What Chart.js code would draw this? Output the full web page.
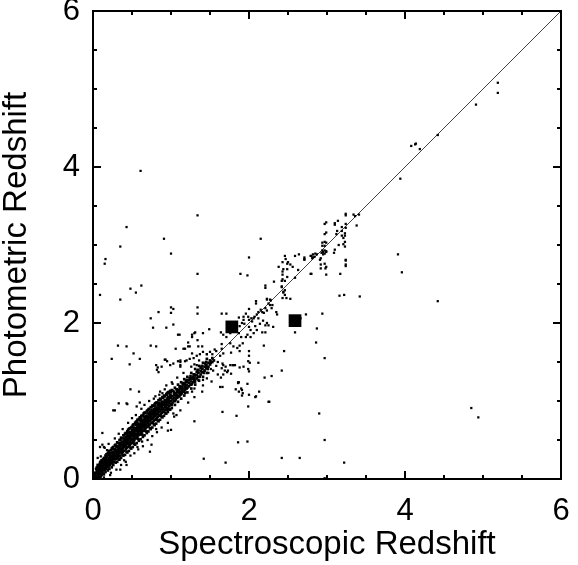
<!DOCTYPE html>
<html>
<head>
<meta charset="utf-8">
<script src="https://cdn.jsdelivr.net/npm/chart.js@4"></script>
<style>
  html, body { margin: 0; padding: 0; background: #fff; }
</style>
</head>
<body>
<canvas id="zChart" width="578" height="565"></canvas>
<script>
// tick values
const majorTicks = [0, 2, 4, 6];
const minorTicks = [0, 0.5, 1, 1.5, 2, 2.5, 3, 3.5, 4, 4.5, 5, 5.5, 6];

// one-to-one reference line
const lineZspec = [0, 6];
const lineZphot = [0, 6];

// the two big squares
const highlightPoints = [[1.78, 1.95], [2.59, 2.03]];

// dense low-z sequence [zspec, zphot]
const bandPoints = [
  [0.03,0.02],[0.03,0.05],[0.03,0.08],
  [0.05,0.03],[0.05,0.07],[0.05,0.11],[0.05,0.15],
  [0.07,0.04],[0.07,0.09],[0.07,0.12],
  [0.08,0.06],[0.08,0.13],[0.08,0.18],
  [0.10,0.07],[0.10,0.10],[0.10,0.14],[0.10,0.22],
  [0.12,0.09],[0.12,0.13],[0.12,0.17],[0.12,0.20],
  [0.13,0.11],[0.13,0.16],[0.13,0.25],
  [0.15,0.12],[0.15,0.14],[0.15,0.19],[0.15,0.23],
  [0.17,0.13],[0.17,0.18],[0.17,0.21],[0.17,0.27],
  [0.18,0.15],[0.18,0.20],[0.18,0.24],
  [0.20,0.16],[0.20,0.19],[0.20,0.23],[0.20,0.27],[0.20,0.31],
  [0.22,0.18],[0.22,0.22],[0.22,0.25],[0.22,0.29],
  [0.23,0.20],[0.23,0.24],[0.23,0.28],[0.23,0.33],
  [0.25,0.21],[0.25,0.25],[0.25,0.30],[0.25,0.27],[0.25,0.35],
  [0.27,0.22],[0.27,0.26],[0.27,0.31],[0.27,0.34],
  [0.28,0.25],[0.28,0.29],[0.28,0.33],[0.28,0.38],
  [0.30,0.26],[0.30,0.30],[0.30,0.34],[0.30,0.37],[0.30,0.28],
  [0.32,0.27],[0.32,0.31],[0.32,0.35],[0.32,0.39],[0.32,0.42],
  [0.33,0.29],[0.33,0.33],[0.33,0.37],[0.33,0.41],
  [0.35,0.30],[0.35,0.34],[0.35,0.38],[0.35,0.42],[0.35,0.46],
  [0.37,0.33],[0.37,0.36],[0.37,0.40],[0.37,0.44],[0.37,0.48],
  [0.38,0.35],[0.38,0.39],[0.38,0.43],[0.38,0.47],
  [0.40,0.36],[0.40,0.41],[0.40,0.44],[0.40,0.49],[0.40,0.52],
  [0.42,0.38],[0.42,0.42],[0.42,0.46],[0.42,0.50],[0.42,0.54],
  [0.43,0.40],[0.43,0.45],[0.43,0.48],[0.43,0.53],
  [0.45,0.41],[0.45,0.46],[0.45,0.50],[0.45,0.55],[0.45,0.59],
  [0.47,0.43],[0.47,0.47],[0.47,0.52],[0.47,0.56],[0.47,0.60],
  [0.48,0.45],[0.48,0.49],[0.48,0.54],[0.48,0.58],
  [0.50,0.46],[0.50,0.51],[0.50,0.55],[0.50,0.60],[0.50,0.63],
  [0.52,0.48],[0.52,0.53],[0.52,0.57],[0.52,0.61],[0.52,0.66],
  [0.53,0.50],[0.53,0.55],[0.53,0.59],[0.53,0.64],
  [0.55,0.52],[0.55,0.57],[0.55,0.61],[0.55,0.65],[0.55,0.69],
  [0.57,0.54],[0.57,0.58],[0.57,0.63],[0.57,0.67],[0.57,0.72],
  [0.58,0.56],[0.58,0.60],[0.58,0.65],[0.58,0.70],
  [0.60,0.57],[0.60,0.62],[0.60,0.66],[0.60,0.71],[0.60,0.75],
  [0.62,0.59],[0.62,0.64],[0.62,0.68],[0.62,0.73],[0.62,0.77],
  [0.63,0.61],[0.63,0.66],[0.63,0.70],[0.63,0.74],
  [0.65,0.62],[0.65,0.67],[0.65,0.72],[0.65,0.76],[0.65,0.80],
  [0.67,0.64],[0.67,0.69],[0.67,0.73],[0.67,0.78],
  [0.68,0.66],[0.68,0.70],[0.68,0.75],[0.68,0.81],
  [0.70,0.67],[0.70,0.72],[0.70,0.76],[0.70,0.80],[0.70,0.84],
  [0.72,0.69],[0.72,0.74],[0.72,0.78],[0.72,0.83],
  [0.73,0.70],[0.73,0.75],[0.73,0.80],[0.73,0.86],
  [0.75,0.72],[0.75,0.77],[0.75,0.81],[0.75,0.85],[0.75,0.88],
  [0.77,0.73],[0.77,0.78],[0.77,0.83],[0.77,0.87],
  [0.78,0.75],[0.78,0.80],[0.78,0.84],[0.78,0.90],
  [0.80,0.76],[0.80,0.81],[0.80,0.85],[0.80,0.89],[0.80,0.93],
  [0.82,0.78],[0.82,0.83],[0.82,0.87],[0.82,0.91],
  [0.83,0.80],[0.83,0.84],[0.83,0.88],[0.83,0.95],
  [0.85,0.82],[0.85,0.86],[0.85,0.90],[0.85,0.93],[0.85,0.97],
  [0.87,0.83],[0.87,0.88],[0.87,0.92],[0.87,0.96],
  [0.88,0.85],[0.88,0.89],[0.88,0.94],[0.88,0.99],
  [0.90,0.86],[0.90,0.90],[0.90,0.95],[0.90,0.98],
  [0.92,0.88],[0.92,0.92],[0.92,0.96],[0.92,1.01],
  [0.93,0.89],[0.93,0.94],[0.93,0.98],
  [0.95,0.91],[0.95,0.95],[0.95,0.99],[0.95,1.03],
  [0.97,0.93],[0.97,0.97],[0.97,1.01],
  [0.98,0.94],[0.98,0.99],[0.98,1.04],
  [1.00,0.96],[1.00,1.00],[1.00,1.04],[1.00,1.07],
  [1.02,0.98],[1.02,1.02],[1.02,1.06],
  [1.04,1.00],[1.04,1.04],[1.04,1.08],[1.04,1.11],
  [1.06,1.02],[1.06,1.06],[1.06,1.10],
  [1.08,1.04],[1.08,1.08],[1.08,1.12],[1.08,1.15],
  [1.10,1.06],[1.10,1.10],[1.10,1.14],
  [1.12,1.08],[1.12,1.12],[1.12,1.16],[1.12,1.19],
  [1.14,1.10],[1.14,1.14],[1.14,1.18],
  [1.16,1.12],[1.16,1.16],[1.16,1.20],[1.16,1.23],
  [1.18,1.14],[1.18,1.18],[1.18,1.22],
  [1.20,1.16],[1.20,1.20],[1.20,1.24],[1.20,1.27],
  [1.23,1.19],[1.23,1.23],[1.23,1.27],
  [1.25,1.21],[1.25,1.25],[1.25,1.29],[1.25,1.32],
  [1.28,1.24],[1.28,1.28],[1.28,1.31],
  [1.30,1.26],[1.30,1.30],[1.30,1.34],
  [1.33,1.29],[1.33,1.33],[1.33,1.37],
  [1.35,1.31],[1.35,1.36],[1.35,1.40],
  [1.38,1.34],[1.38,1.38],[1.38,1.42],
  [1.40,1.37],[1.40,1.41],[1.40,1.45],
  [1.43,1.39],[1.43,1.44],
  [1.45,1.42],[1.45,1.46],[1.45,1.50],
  [1.48,1.44],[1.48,1.49],
  [1.50,1.47],[1.50,1.52],
  [1.53,1.50],[1.53,1.55]
];

// wider edges and clumps of the same sequence
const bandEdgePoints = [
  [0.04,0.13],[0.06,0.18],[0.06,0.01],[0.09,0.20],[0.09,0.03],[0.11,0.24],[0.11,0.05],[0.14,0.27],
  [0.14,0.06],[0.16,0.30],[0.16,0.09],[0.19,0.33],[0.19,0.11],[0.21,0.36],[0.21,0.13],[0.24,0.39],
  [0.24,0.15],[0.26,0.41],[0.26,0.18],[0.29,0.44],[0.29,0.21],[0.31,0.47],[0.31,0.22],[0.34,0.50],
  [0.34,0.25],[0.36,0.53],[0.36,0.27],[0.39,0.56],[0.39,0.30],[0.41,0.58],[0.41,0.31],[0.44,0.61],
  [0.44,0.34],[0.46,0.64],[0.46,0.36],[0.49,0.66],[0.49,0.39],[0.51,0.69],[0.51,0.41],[0.54,0.72],
  [0.54,0.44],[0.56,0.74],[0.56,0.46],[0.59,0.77],[0.59,0.49],[0.61,0.79],[0.61,0.51],[0.64,0.82],
  [0.64,0.54],[0.66,0.85],[0.66,0.56],[0.69,0.87],[0.69,0.59],[0.71,0.89],[0.71,0.61],[0.74,0.92],
  [0.74,0.64],[0.76,0.94],[0.76,0.66],[0.79,0.96],[0.79,0.69],[0.81,0.98],[0.81,0.71],[0.84,1.01],
  [0.84,0.74],[0.86,1.03],[0.86,0.76],[0.89,1.05],[0.89,0.79],[0.91,1.07],[0.91,0.81],[0.94,1.09],
  [0.94,0.84],[0.96,1.11],[0.96,0.86],[0.99,1.13],[0.99,0.89],[1.01,1.14],[1.01,0.91],[1.05,1.17],
  [1.05,0.95],[1.09,1.21],[1.09,0.99],[1.13,1.24],[1.13,1.03],[1.17,1.28],[1.17,1.07],[1.21,1.31],
  [1.21,1.11],[1.26,1.36],[1.26,1.16],[1.31,1.41],[1.31,1.21],[1.36,1.45],[1.36,1.26],[1.41,1.49],
  [1.41,1.31],[1.46,1.54],[1.46,1.36],
  [0.44,0.52],[0.46,0.53],[0.49,0.57],[0.51,0.58],[0.53,0.62],[0.44,0.57],[0.41,0.50],[0.39,0.47],
  [0.36,0.44],[0.34,0.40],[0.31,0.37],[0.29,0.35],[0.26,0.32],[0.24,0.29],[0.21,0.27],[0.19,0.24],
  [0.16,0.22],[0.14,0.18],[0.11,0.16],[0.09,0.12],[0.74,0.83],[0.76,0.86],[0.79,0.87],[0.81,0.90],
  [0.84,0.92],[0.86,0.95],[0.89,0.97],[0.91,0.99],[0.71,0.80],[0.69,0.78],[0.66,0.76],[0.64,0.73],
  [0.61,0.70],[0.59,0.68],[0.56,0.64],[0.54,0.62],[0.94,1.01],[0.96,1.05],[0.99,1.06],[1.05,1.09],
  [1.09,1.13],[1.13,1.17],[1.17,1.21],[1.21,1.25],[1.26,1.29],[1.31,1.33],
  [0.05,0.09],[0.06,0.13],[0.07,0.16],[0.08,0.09],[0.09,0.16],[0.10,0.18],[0.11,0.11],[0.12,0.23],
  [0.13,0.07],[0.14,0.21],[0.15,0.26],[0.16,0.15],[0.17,0.24],[0.18,0.29],[0.19,0.17],[0.20,0.35],
  [0.21,0.21],[0.22,0.32],[0.23,0.37],[0.24,0.23],[0.25,0.40],[0.26,0.28],[0.27,0.38],[0.28,0.43],
  [0.29,0.27],[0.30,0.41],[0.31,0.32],[0.32,0.46],[0.33,0.25],[0.34,0.45],[0.35,0.50],[0.36,0.37],
  [0.37,0.52],[0.38,0.31],[0.39,0.42],[0.40,0.56],[0.41,0.45],[0.42,0.59],[0.43,0.35],[0.44,0.47],
  [0.45,0.63],[0.46,0.43],[0.47,0.65],[0.48,0.40],[0.49,0.51],[0.50,0.67],[0.51,0.48],[0.52,0.70],
  [0.53,0.45],[0.54,0.57],[0.55,0.73],[0.56,0.53],[0.57,0.76],[0.58,0.51],[0.59,0.63],[0.60,0.79],
  [0.61,0.58],[0.62,0.81],[0.63,0.57],[0.64,0.69],[0.65,0.84],[0.66,0.63],[0.67,0.85],[0.68,0.61],
  [0.69,0.74],[0.70,0.88],[0.71,0.68],[0.72,0.90],[0.73,0.65],[0.74,0.78],[0.75,0.92],[0.76,0.72],
  [0.77,0.94],[0.78,0.70],[0.79,0.82],[0.80,0.97],[0.81,0.77],[0.82,0.98],[0.83,0.75],[0.84,0.87],
  [0.85,1.01],[0.86,0.81],[0.87,1.02],[0.88,0.80],[0.89,0.91],[0.90,1.04],[0.91,0.86],[0.92,1.06],
  [0.93,0.84],[0.94,0.96],[0.95,1.08],[0.96,0.90],[0.97,1.10],[0.98,0.89],[1.00,1.11],[1.01,0.95],
  [1.03,1.13],[1.05,1.00],[1.07,1.15],[1.09,1.06],[1.11,1.18],[1.13,1.09],[1.15,1.22],[1.17,1.12],
  [1.19,1.25],[1.21,1.17],[1.24,1.29],[1.26,1.21],[1.29,1.34],[1.31,1.27],[1.34,1.39],[1.36,1.31],
  [1.39,1.44],[1.42,1.36],[1.44,1.48],[1.47,1.41],[1.51,1.49],[1.55,1.52]
];

// loose dots just around the sequence
const bandLoosePoints = [
  [0.15,0.40],[0.20,0.45],[0.22,0.05],[0.28,0.52],[0.30,0.12],[0.33,0.58],[0.36,0.18],[0.38,0.64],
  [0.42,0.22],[0.45,0.72],[0.48,0.30],[0.50,0.78],[0.53,0.33],[0.55,0.82],[0.58,0.38],[0.62,0.90],
  [0.64,0.42],[0.66,0.95],[0.70,0.50],[0.72,1.00],[0.76,0.55],[0.78,1.03],[0.82,0.60],[0.86,1.12],
  [0.88,0.66],[0.92,1.15],[0.96,0.72],[1.02,1.22],[1.04,0.80],[1.08,1.30],[1.12,0.88],[1.16,1.36],
  [1.22,0.98],[1.26,1.44],[1.30,1.05],[1.36,1.52],[1.40,1.12],[1.46,1.60],[1.52,1.25],[1.56,1.66],
  [1.60,1.34],[1.60,1.50],[1.58,1.45]
];

const scatterPoints = [
  [0.61,3.95],[1.34,3.38],[0.43,3.23],[0.91,3.08],[2.15,3.08],[0.35,2.98],[1.00,2.89],[2.00,2.84],
  [0.16,2.82],[0.15,2.76],[1.34,2.63],[1.89,2.63],[1.98,2.61],[0.62,2.48],[0.48,2.44],[0.55,2.39],
  [0.09,2.36],[0.35,2.30],[2.21,2.48],[2.21,2.45],[2.23,2.31],[2.27,2.30],[2.32,2.53],
  [2.46,2.86],[2.47,2.82],[2.43,2.78],[2.50,2.78],[2.49,2.76],[2.38,2.72],[2.44,2.69],[2.49,2.69],
  [2.43,2.66],[2.43,2.62],[2.49,2.59],[2.43,2.56],[2.42,2.54],[2.42,2.47],[2.44,2.40],[2.46,2.36],[2.43,2.32],
  [3.24,3.40],[3.24,3.38],[3.34,3.39],[3.41,3.39],[3.36,3.37],[3.14,3.31],[2.99,3.29],[2.97,3.27],
  [3.10,3.28],[3.10,3.26],[3.24,3.27],[3.38,3.25],[3.19,3.23],[3.24,3.22],[3.13,3.18],[3.19,3.18],
  [2.99,3.16],[2.97,3.14],[3.12,3.14],[3.23,3.15],[3.23,3.12],[3.19,3.12],[3.21,3.09],[2.97,3.04],
  [2.99,3.03],[2.94,3.03],[3.23,3.04],[3.21,3.01],[3.15,3.00],[2.94,2.99],[2.97,2.99],[3.23,2.98],
  [3.10,2.94],[3.09,2.90],[2.94,2.93],[2.97,2.93],[2.99,2.92],[2.95,2.91],[2.93,2.90],[2.97,2.89],
  [2.95,2.88],[2.99,2.91],[2.85,2.89],[2.87,2.88],[2.80,2.86],[2.82,2.84],[2.81,2.83],[2.71,2.84],
  [2.71,2.81],[2.92,2.83],[2.91,2.81],[3.24,2.81],[2.97,2.76],[2.99,2.72],[2.92,2.75],[2.92,2.70],
  [3.24,2.73],[2.80,2.63],[2.99,2.62],[3.17,2.63],[3.91,2.88],[3.96,2.65],[3.16,2.35],[3.22,2.36],
  [3.42,2.34],[4.42,2.28],[2.94,2.12],[2.73,2.11],[2.66,2.06],[2.87,1.93],
  [5.19,5.08],[5.19,4.95],[4.91,4.80],[4.42,4.41],[4.08,4.27],[4.13,4.29],[4.14,4.30],[4.19,4.23],[3.94,3.85],
  [4.85,0.91],[4.94,0.79],
  [2.20,1.30],[2.29,1.32],[2.42,1.39],[2.26,0.99],[2.90,0.84],[2.97,0.50],[2.42,0.27],[2.65,0.27],[3.22,0.21],[2.97,0.01],
  [2.59,2.86],[2.64,2.88],[2.71,2.82],[2.79,2.86],[2.82,2.88],[2.84,2.85],[3.24,2.80],[3.24,2.75],
  [2.56,2.72],[2.53,2.75],[2.63,2.68],[2.59,2.58],[2.79,2.63],[2.98,2.70],[2.46,2.54],[2.42,2.46],
  [2.46,2.42],[2.44,2.39],[2.48,2.32],[2.53,2.31],[2.09,2.28],[2.23,2.30],[2.28,2.29],[2.25,2.25],
  [2.29,2.19],[2.27,2.23],[2.30,2.23],[2.35,2.14],[2.36,2.11],[2.21,2.19],[2.23,2.16],[2.19,2.13],
  [2.12,2.14],[2.15,2.17],[2.17,2.14],[2.09,2.25],[2.00,2.18],[2.10,2.11],[2.07,2.08],[2.06,2.06],
  [1.99,2.08],[2.03,2.06],[2.04,2.02],[2.00,2.04],[1.87,2.07],[1.93,2.04],[1.91,2.00],[1.88,1.96],
  [1.94,1.99],[1.65,2.12],[1.71,2.12],[2.12,2.06],[2.18,2.03],[2.14,1.99],[2.21,1.97],[2.23,2.00],
  [2.25,1.97],[2.08,1.96],[2.10,1.91],[2.06,1.87],[2.17,1.88],[2.21,1.88],[2.02,1.82],[1.98,1.85],
  [2.31,1.95],[2.59,1.88],[2.45,1.64],[2.86,1.75],[2.97,1.55],[2.19,1.71],[2.12,1.49],[2.00,1.64],
  [2.00,1.58],[1.99,1.51],[1.92,1.74],[1.88,1.71],[1.85,1.68],[1.88,1.64],[1.80,1.70],[1.76,1.74],
  [1.77,1.62],[1.76,1.87],[1.71,1.82],[1.67,1.85],[1.64,1.88],[1.87,1.87],[1.90,1.82],[1.96,1.82],
  [2.00,1.95],[2.02,1.91],[1.65,1.73],[1.65,1.67],[1.58,1.64],[1.53,1.60],[1.63,1.58],[1.67,1.61],
  [1.49,1.92],[1.41,1.87],[1.30,1.87],[1.27,1.82],[1.22,1.70],[1.16,1.67],[1.06,1.67],[1.11,1.85],
  [1.34,1.78],[1.50,1.63],[1.46,1.60],[1.41,1.63],[1.37,1.60],[1.33,1.58],[1.27,1.61],[0.94,1.94],
  [1.03,1.98],[1.00,2.20],[1.03,2.18],[1.00,2.13],[0.93,1.53],[1.34,2.20],[1.34,2.12],[1.12,1.52],
  [1.20,1.52],[1.12,1.44],[1.29,1.55],[1.30,1.47],[1.50,1.47],[1.46,1.44],[1.51,1.41],[1.54,1.39],
  [1.48,1.36],[1.43,1.39],[1.70,1.44],[1.73,1.39],[1.67,1.34],[1.64,1.30],[1.77,1.35],[1.87,1.24],
  [1.90,1.16],[1.99,1.41],[2.00,1.38],[2.13,1.12],[2.09,1.06],[1.91,1.07],[1.87,1.12],
  [1.37,1.31],[1.35,1.27],[1.31,1.24],[1.27,1.22],[1.23,1.19],[1.19,1.16],[1.14,1.12],[1.18,1.10],
  [1.11,1.06],[1.07,1.04],[1.41,1.27],[1.46,1.29],[1.41,1.20],[1.30,1.16],[1.27,1.12],[1.01,1.24],
  [0.94,1.20],[0.95,1.10],[0.89,1.10],[0.91,1.06],[1.00,1.06],
  [0.84,2.14],[0.74,2.06],[0.77,1.94],[1.93,2.08],[1.96,2.12],[1.09,1.85],[1.27,1.85],[1.31,1.88],
  [0.32,1.71],[0.43,1.70],[0.52,1.61],[0.74,1.71],[0.81,1.70],[1.18,1.67],[1.22,1.75],[1.24,1.70],
  [1.35,1.70],[1.40,1.70],[0.24,1.54],[0.47,1.47],[0.60,1.54],[0.82,1.40],[0.84,1.37],[0.92,1.53],
  [0.95,1.51],[1.03,1.48],[1.09,1.51],[1.18,1.51],[1.24,1.54],[1.12,1.46],[0.99,1.46],[0.88,1.44],
  [1.66,1.48],[1.76,1.46],[1.80,1.46],[1.93,1.44],[1.65,1.42],[1.69,1.39],[1.72,1.37],[1.86,1.24],
  [1.98,1.22],[1.83,1.15],[1.91,1.14],[0.48,1.15],[0.33,0.97],[0.28,0.88],[0.60,0.98],
  [0.59,1.12],[0.85,1.08],[0.97,1.12],[0.99,1.08],[0.80,1.06],[0.43,0.97],[0.56,0.93],[0.12,0.59],
  [0.95,0.88],[1.03,0.84],[1.07,0.82],[0.96,0.62],[1.00,0.63],[0.81,0.64],
  [0.81,1.46],[0.83,1.43],[1.12,1.50],[1.33,1.46],[1.67,1.46],[1.79,1.46],[1.82,1.46],[1.88,1.43],
  [2.01,1.49],[1.63,1.18],[1.66,1.18],[1.86,1.23],[1.92,1.10],[2.00,1.08],[2.08,1.05],[2.25,0.99],
  [1.66,0.86],[1.84,0.81],[1.99,0.93],[1.30,0.74],[0.75,0.44],[0.73,0.35],[0.60,0.67],[0.63,0.48],
  [0.57,0.41],[1.86,0.47],[1.98,0.48],[1.42,0.26],[1.70,0.21],[0.35,0.12],[0.43,0.18],[0.40,0.24],
  [0.26,0.88],[0.44,0.96],[0.10,0.03],[0.14,0.02],[0.06,0.27],[0.09,0.41],[0.14,0.41],[0.10,0.29],
  [0.17,0.32],[0.23,0.08],[0.09,0.22],[0.12,0.44],[0.18,0.37],[0.05,0.12]
];

const toXY = pts => pts.map(p => ({ x: p[0], y: p[1] }));

const frameTicks = {
  id: 'frameTicks',
  afterDatasetsDraw(chart) {
    const { ctx, chartArea: a, scales: { x, y } } = chart;
    ctx.save();
    ctx.strokeStyle = '#000';
    ctx.lineWidth = 2;
    ctx.strokeRect(a.left, a.top, a.right - a.left, a.bottom - a.top);
    ctx.beginPath();
    minorTicks.forEach(v => {
      const len = majorTicks.includes(v) ? 8 : 4;
      const px = x.getPixelForValue(v);
      const py = y.getPixelForValue(v);
      ctx.moveTo(px, a.bottom); ctx.lineTo(px, a.bottom - len);
      ctx.moveTo(px, a.top); ctx.lineTo(px, a.top + len);
      ctx.moveTo(a.left, py); ctx.lineTo(a.left + len, py);
      ctx.moveTo(a.right, py); ctx.lineTo(a.right - len, py);
    });
    ctx.stroke();
    ctx.restore();
  }
};

const fontFamily = '"Liberation Sans", Arial, Helvetica, sans-serif';
const bandStyle = { pointStyle: 'rect', pointRadius: 1.9, backgroundColor: '#000', borderWidth: 0 };
const dotStyle = { pointStyle: 'rect', pointRadius: 1.6, backgroundColor: '#000', borderWidth: 0 };

new Chart(document.getElementById('zChart'), {
  type: 'scatter',
  data: {
    datasets: [
      { data: toXY(bandPoints), ...bandStyle },
      { data: toXY(bandEdgePoints), ...bandStyle },
      { data: toXY(bandLoosePoints), ...dotStyle },
      { data: toXY(scatterPoints), ...dotStyle },
      {
        data: toXY(highlightPoints),
        pointStyle: 'rect',
        pointRadius: 9,
        backgroundColor: '#000',
        borderWidth: 0
      },
      {
        type: 'line',
        data: lineZspec.map((v, i) => ({ x: v, y: lineZphot[i] })),
        borderColor: '#444',
        borderWidth: 1,
        pointRadius: 0,
        fill: false
      }
    ]
  },
  options: {
    responsive: false,
    animation: false,
    devicePixelRatio: 1,
    layout: { padding: { left: 0, right: 17, top: 11, bottom: 0 } },
    plugins: {
      legend: { display: false },
      tooltip: { enabled: false }
    },
    scales: {
      x: {
        type: 'linear',
        min: 0,
        max: 6,
        grid: { display: false, drawTicks: false },
        border: { display: false },
        afterFit(scale) {
          scale.height = 86;
          scale.paddingLeft = 0;
          scale.paddingRight = 0;
        },
        ticks: {
          stepSize: 2,
          color: '#000',
          padding: 16.5,
          font: { family: fontFamily, size: 31, lineHeight: 1.0 }
        },
        title: {
          display: true,
          text: 'Spectroscopic Redshift',
          color: '#000',
          font: { family: fontFamily, size: 33, lineHeight: 1.0 },
          padding: { top: 0, bottom: 3.5 }
        }
      },
      y: {
        type: 'linear',
        min: 0,
        max: 6,
        grid: { display: false, drawTicks: false },
        border: { display: false },
        afterFit(scale) {
          scale.width = 93;
          scale.paddingTop = 0;
          scale.paddingBottom = 0;
        },
        ticks: {
          stepSize: 2,
          color: '#000',
          padding: 13,
          font: { family: fontFamily, size: 31, lineHeight: 1.0 }
        },
        title: {
          display: true,
          text: 'Photometric Redshift',
          color: '#000',
          font: { family: fontFamily, size: 33, lineHeight: 1.0 },
          padding: { top: 0, bottom: 0 }
        }
      }
    }
  },
  plugins: [frameTicks]
});
</script>
</body>
</html>
